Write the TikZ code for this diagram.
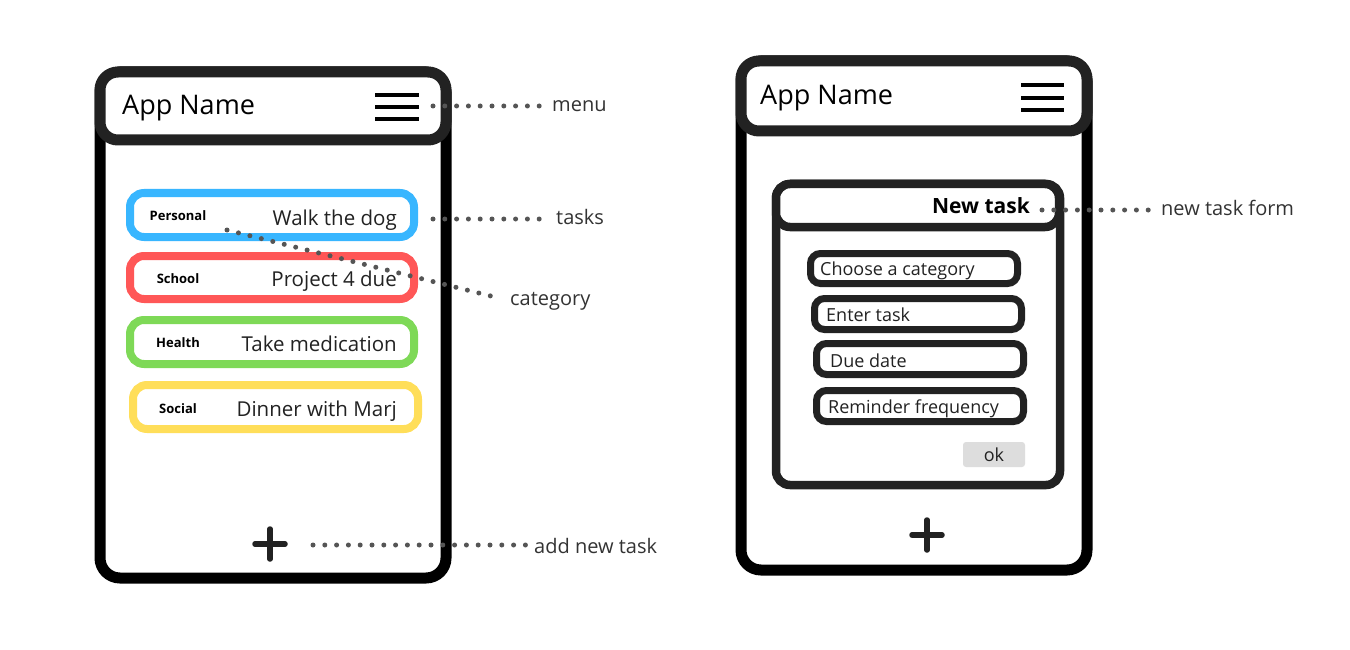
\documentclass[tikz,border=0pt]{standalone}
\usepackage{fontspec}
\setmainfont{Open Sans}
\usetikzlibrary{positioning}
\definecolor{Ink}{HTML}{222222}
\definecolor{DotGray}{HTML}{555555}
\definecolor{LabelGray}{HTML}{333333}
\definecolor{TaskBlue}{HTML}{38B6FF}
\definecolor{TaskRed}{HTML}{FF5757}
\definecolor{TaskGreen}{HTML}{7ED957}
\definecolor{TaskYellow}{HTML}{FFDE59}
\definecolor{OkGray}{HTML}{DDDDDD}
\newcommand{\Fsize}[1]{\fontsize{#1}{#1}\selectfont}
\tikzset{%
    Phone frame/.style={%
        line width=11pt,
        draw=black,
        fill=white,
        rounded corners=20pt
    },
    Top bar/.style={%
        line width=11pt,
        draw=Ink,
        fill=white,
        rounded corners=18pt
    },
    Task box/.style={%
        line width=8pt,
        fill=white,
        rounded corners=14pt
    },
    Form box/.style={%
        line width=8.5pt,
        draw=Ink,
        fill=white,
        rounded corners=14pt
    },
    Field box/.style={%
        line width=7pt,
        draw=Ink,
        fill=white,
        rounded corners=10pt
    },
    Burger/.style={line width=4.5pt,draw=black},
    Plus sign/.style={line width=5.5pt,line cap=round,draw=Ink},
    Dot line/.style={%
        draw=DotGray,
        line width=5pt,
        line cap=round,
        dash pattern=on 0pt off 11.8pt
    },
    Title/.style={anchor=base west,inner sep=0pt,text=black,font=\Fsize{27}},
    Category/.style={anchor=base,inner sep=0pt,text=black,font=\Fsize{13}\bfseries},
    Task text/.style={anchor=base east,inner sep=0pt,text=Ink,font=\Fsize{20.5}},
    Field text/.style={anchor=base west,inner sep=0pt,text=Ink,font=\Fsize{18}},
    Side label/.style={anchor=base west,inner sep=0pt,text=LabelGray,font=\Fsize{20}}
}

\begin{document}
\begin{tikzpicture}[x=1pt,y=-1pt]
\useasboundingbox[fill=white] (0,0) rectangle (1350,650);

% left screen : task list
\draw[Phone frame] (100,72) rectangle (446,578);
\draw[Top bar] (100,72) rectangle (446,140);
\node[Title] (left title) at (122,115) {App Name};
\draw[Burger] (375,95) -- (419,95) (375,107) -- (419,107) (375,119) -- (419,119);
\coordinate (left burger) at (419,107);

\draw[Task box,draw=TaskBlue] (130,193) rectangle (414,237);
\node[Category] (personal) at (178,220) {Personal};
\node[Task text] (walk) at (397,225) {Walk the dog};

\draw[Task box,draw=TaskRed] (130,256) rectangle (414,299);
\node[Category] (school) at (178,283) {School};
\node[Task text] (project) at (397,286) {Project 4 due};

\draw[Task box,draw=TaskGreen] (130,320) rectangle (414,364);
\node[Category] (health) at (178,347) {Health};
\node[Task text] (medication) at (397,351) {Take medication};

\draw[Task box,draw=TaskYellow] (133,385) rectangle (418,429);
\node[Category] (social) at (178,413) {Social};
\node[Task text] (dinner) at (397,416) {Dinner with Marj};

\coordinate (left plus) at (270,544);
\draw[Plus sign] ([xshift=-15pt]left plus) -- ([xshift=15pt]left plus)
    ([yshift=-15pt]left plus) -- ([yshift=15pt]left plus);

% right screen : new task form
\draw[Phone frame] (741,61) rectangle (1087,570);
\draw[Top bar] (741,61) rectangle (1087,131);
\node[Title] (right title) at (760,105) {App Name};
\draw[Burger] (1021,85) -- (1064,85) (1021,98) -- (1064,98) (1021,110) -- (1064,110);

\draw[Form box] (776,184) rectangle (1060,485);
\draw[Form box] (776,184) rectangle (1059,227);
\node[anchor=base east,inner sep=0pt,text=black,font=\Fsize{21}\bfseries]
    (new task) at (1030,213) {New task};

\draw[Field box] (810.5,253.5) rectangle (1017.5,283.5);
\node[Field text] (choose) at (820,275) {Choose a category};
\draw[Field box] (814.5,298.5) rectangle (1021.5,329.5);
\node[Field text] (enter) at (826,321) {Enter task};
\draw[Field box] (816.5,343.5) rectangle (1023.5,374.5);
\node[Field text] (due) at (830,367) {Due date};
\draw[Field box] (816.5,390.5) rectangle (1023.5,421.5);
\node[Field text] (reminder) at (828,413) {Reminder frequency};

\node[fill=OkGray,rounded corners=3pt,minimum width=62pt,minimum height=25pt,
    inner sep=0pt,text=Ink,font=\Fsize{18}] (ok) at (994,454.5) {ok};

\coordinate (right plus) at (927,535);
\draw[Plus sign] ([xshift=-15pt]right plus) -- ([xshift=15pt]right plus)
    ([yshift=-15pt]right plus) -- ([yshift=15pt]right plus);

% side labels and dotted leaders
\node[Side label] (menu) at (552,112) {menu};
\node[Side label] (tasks) at (556,224) {tasks};
\node[Side label] (category) at (510,305) {category};
\node[Side label] (add) at (534,553) {add new task};
\node[Side label] (form) at (1161,215) {new task form};

\coordinate (menu dots) at (433,106);
\coordinate (tasks dots) at (433,219);
\coordinate (category dots) at (227,230);
\coordinate (add dots) at (313,545);
\coordinate (form dots) at (1042,210);

\draw[Dot line,shorten >=9pt] (menu dots) -- (menu dots -| menu.west);
\draw[Dot line,shorten >=13pt] (tasks dots) -- (tasks dots -| tasks.west);
\draw[Dot line,shorten >=18pt] (category dots) -- (category.west);
\draw[Dot line,shorten >=8pt] (add dots) -- (add dots -| add.west);
\draw[Dot line,shorten >=11pt] (form dots) -- (form dots -| form.west);

\end{tikzpicture}
\end{document}
